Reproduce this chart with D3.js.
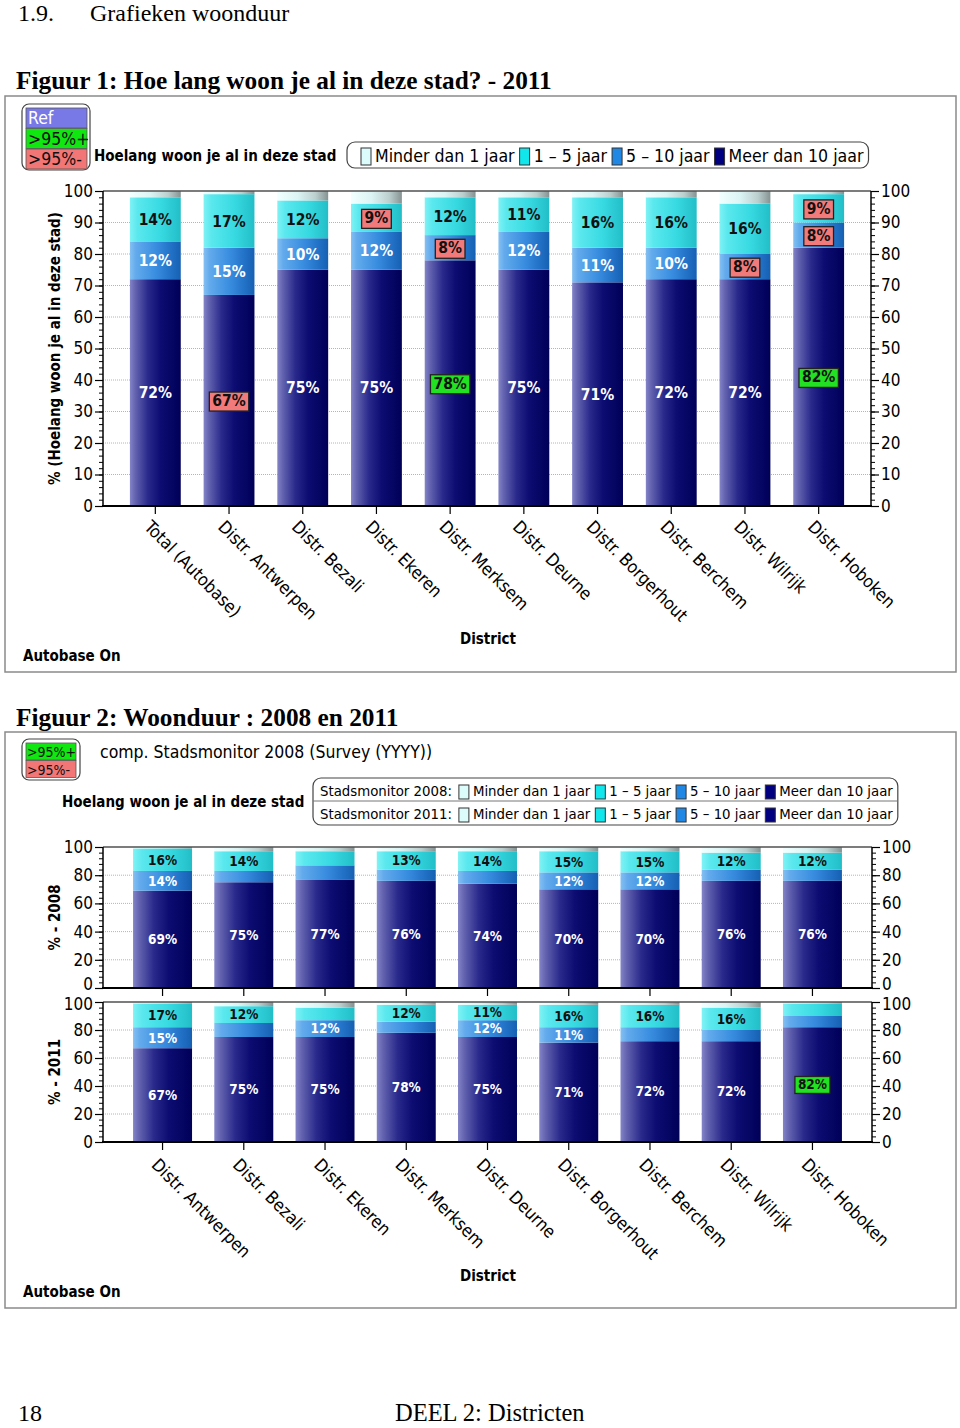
<!DOCTYPE html>
<html><head><meta charset="utf-8">
<script src="https://cdn.jsdelivr.net/npm/d3@7"></script>
<style>body{margin:0;background:#fff}svg{display:block}</style>
</head><body>
<svg id="c" width="960" height="1428"></svg>
<script>
// ---------------- DATA ----------------
const stackKeys = ["meer", "tien", "vijf", "minder"]; // bottom -> top
const legendLabels = ["Minder dan 1 jaar", "1 – 5 jaar", "5 – 10 jaar", "Meer dan 10 jaar"];
const legendKeys = ["minder", "vijf", "tien", "meer"];

const categoriesFig1 = ["Total (Autobase)", "Distr. Antwerpen", "Distr. Bezali", "Distr. Ekeren", "Distr. Merksem",
  "Distr. Deurne", "Distr. Borgerhout", "Distr. Berchem", "Distr. Wilrijk", "Distr. Hoboken"];
const fig1Meer   = [72, 67, 75, 75, 78, 75, 71, 72, 72, 82];
const fig1Tien   = [12, 15, 10, 12, 8, 12, 11, 10, 8, 8];
const fig1Vijf   = [14, 17, 12, 9, 12, 11, 16, 16, 16, 9];
const fig1Minder = [2, 1, 3, 4, 2, 2, 2, 2, 4, 1];
const fig1SigMeer = ["", "-", "", "", "+", "", "", "", "", "+"];
const fig1SigTien = ["", "", "", "", "-", "", "", "", "-", "-"];
const fig1SigVijf = ["", "", "", "-", "", "", "", "", "", "-"];

const categoriesFig2 = ["Distr. Antwerpen", "Distr. Bezali", "Distr. Ekeren", "Distr. Merksem", "Distr. Deurne",
  "Distr. Borgerhout", "Distr. Berchem", "Distr. Wilrijk", "Distr. Hoboken"];
const fig2Meer2008   = [69, 75, 77, 76, 74, 70, 70, 76, 76];
const fig2Tien2008   = [14, 8, 10, 8, 9, 12, 12, 8, 8];
const fig2Vijf2008   = [16, 14, 10, 13, 14, 15, 15, 12, 12];
const fig2Minder2008 = [1, 3, 3, 3, 3, 3, 3, 4, 4];
const fig2Meer2011   = [67, 75, 75, 78, 75, 71, 72, 72, 82];
const fig2Tien2011   = [15, 10, 12, 8, 12, 11, 10, 8, 8];
const fig2Vijf2011   = [17, 12, 9, 12, 11, 16, 16, 16, 9];
const fig2Minder2011 = [1, 3, 4, 2, 2, 2, 2, 4, 1];
const fig2SigMeer2011 = ["", "", "", "", "", "", "", "", "+"];

const yTicksFig1 = [0, 10, 20, 30, 40, 50, 60, 70, 80, 90, 100];
const yTicksFig2 = [0, 20, 40, 60, 80, 100];

// ---------------- STYLE ----------------
const FONT = "'DejaVu Sans Condensed','DejaVu Sans',sans-serif";
const SERIF = "'Liberation Serif','Times New Roman',serif";
const svg = d3.select("#c");
const defs = svg.append("defs");

const gradStops = {
  meer:   [[0, "#8484c8"], [0.1, "#6464b0"], [0.35, "#2a2a8c"], [0.6, "#0c0c72"], [1, "#000058"]],
  tien:   [[0, "#84c0f2"], [0.12, "#62aaec"], [0.5, "#3a8ee0"], [0.8, "#2272c8"], [1, "#1660b2"]],
  vijf:   [[0, "#80f2f4"], [0.15, "#5ae8ee"], [0.6, "#38dae2"], [1, "#22bec8"]],
  minder: [[0, "#f2ffff"], [0.4, "#dcf4f4"], [0.75, "#bccfcf"], [1, "#869292"]]
};
const swatchColors = {minder: "#dcfcfc", vijf: "#10e6ec", tien: "#2088e4", meer: "#000080"};
const labelColors = {meer: "#ffffff", tien: "#ffffff", vijf: "#111111", minder: "#111111"};
const sigFill = {"+": "#22e022", "-": "#f27a7a"};

Object.entries(gradStops).forEach(([k, stops]) => {
  const g = defs.append("linearGradient").attr("id", "g-" + k).attr("x1", 0).attr("x2", 1).attr("y1", 0).attr("y2", 0);
  stops.forEach(s => g.append("stop").attr("offset", s[0]).attr("stop-color", s[1]));
});

function rows(cats, meer, tien, vijf, minder) {
  return cats.map((c, i) => ({cat: c, meer: meer[i], tien: tien[i], vijf: vijf[i], minder: minder[i]}));
}

function text(g, x, y, str, size, opts = {}) {
  return g.append("text").attr("x", x).attr("y", y).text(str)
    .attr("font-family", opts.family || FONT).attr("font-size", size)
    .attr("font-weight", opts.bold ? "bold" : "normal")
    .attr("fill", opts.fill || "#000")
    .attr("text-anchor", opts.anchor || "start");
}

function panel(o) {
  const g = svg.append("g");
  const x = d3.scaleBand().domain(o.cats).range([o.x0, o.x1]).paddingInner(o.padInner).paddingOuter(o.padOuter);
  const y = d3.scaleLinear().domain([0, 100]).range([o.yBot, o.yTop]);
  // gridlines
  g.append("g").selectAll("line").data(o.ticks.filter(t => t > 0 && t < 100)).join("line")
    .attr("x1", o.x0).attr("x2", o.x1).attr("y1", d => y(d)).attr("y2", d => y(d))
    .attr("stroke", "#b4b4b4").attr("stroke-width", 1).attr("stroke-dasharray", "1,1");
  // bars
  const stack = d3.stack().keys(stackKeys)(o.rows);
  stack.forEach(layer => {
    g.append("g").selectAll("rect").data(layer).join("rect")
      .attr("x", d => x(d.data.cat)).attr("width", x.bandwidth())
      .attr("y", d => y(d[1])).attr("height", d => y(d[0]) - y(d[1]))
      .attr("fill", "url(#g-" + layer.key + ")");
  });
  // frame
  g.append("line").attr("x1", o.x0).attr("x2", o.x1).attr("y1", o.yTop).attr("y2", o.yTop).attr("stroke", "#505050").attr("stroke-width", 1.5);
  // axes
  const minor = d3.range(0, 100.001, o.minorStep);
  const left = d3.axisLeft(y).tickValues(minor).tickSize(4).tickFormat("");
  const right = d3.axisRight(y).tickValues(minor).tickSize(4).tickFormat("");
  g.append("g").attr("transform", `translate(${o.x0},0)`).call(left).call(s => s.select(".domain").remove()).selectAll("line").attr("stroke-width", 1);
  g.append("g").attr("transform", `translate(${o.x1},0)`).call(right).call(s => s.select(".domain").remove()).selectAll("line").attr("stroke-width", 1);
  const la = g.append("g").attr("transform", `translate(${o.x0},0)`)
    .call(d3.axisLeft(y).tickValues(o.ticks).tickSize(8).tickPadding(2).tickFormat(d3.format("d")));
  const ra = g.append("g").attr("transform", `translate(${o.x1},0)`)
    .call(d3.axisRight(y).tickValues(o.ticks).tickSize(8).tickPadding(2).tickFormat(d3.format("d")));
  [la, ra].forEach(a => {
    a.select(".domain").remove();
    a.selectAll("text").attr("font-family", FONT).attr("font-size", o.tickFont).attr("fill", "#000")
      .attr("dy", d => (d === 0 && o.nudgeZero ? "0.1em" : (d === 100 && o.nudgeTop ? "0.45em" : "0.32em")));
    a.selectAll("line").attr("stroke-width", 1.2);
  });
  g.append("line").attr("x1", o.x0).attr("x2", o.x0).attr("y1", o.yTop).attr("y2", o.yBot).attr("stroke", "#000").attr("stroke-width", 1.5);
  g.append("line").attr("x1", o.x1).attr("x2", o.x1).attr("y1", o.yTop).attr("y2", o.yBot).attr("stroke", "#000").attr("stroke-width", 1.5);
  const xa = g.append("g").attr("transform", `translate(0,${o.yBot})`)
    .call(d3.axisBottom(x).tickSize(8).tickFormat(""));
  xa.select(".domain").remove();
  xa.selectAll("line").attr("stroke-width", 1.2);
  g.append("line").attr("x1", o.x0 - 1).attr("x2", o.x1 + 1).attr("y1", o.yBot).attr("y2", o.yBot).attr("stroke", "#000").attr("stroke-width", 2.2);

  // value labels
  stack.forEach(layer => {
    const k = layer.key;
    const sig = (o.sig && o.sig[k]) || [];
    layer.forEach((d, i) => {
      const v = d[1] - d[0];
      const s = sig[i] || "";
      if (!(v >= o.threshold || s)) return;
      const cx = x(d.data.cat) + x.bandwidth() / 2;
      const cy = y((d[0] + d[1]) / 2);
      const t = g.append("text").attr("x", cx).attr("y", cy).attr("dy", "0.36em")
        .attr("text-anchor", "middle").attr("font-family", FONT).attr("font-weight", "bold")
        .attr("font-size", o.labelFont).attr("fill", s ? "#111" : labelColors[k]).text(v + "%");
      if (s) {
        const bb = t.node().getBBox();
        g.insert("rect", () => t.node())
          .attr("x", bb.x - 3).attr("y", bb.y).attr("width", bb.width + 6).attr("height", bb.height + 1)
          .attr("fill", sigFill[s]).attr("stroke", "#222").attr("stroke-width", 1.3);
      }
    });
  });

  if (o.xLabels) {
    g.append("g").selectAll("text").data(o.cats).join("text")
      .attr("transform", d => `translate(${x(d) + x.bandwidth() / 2 - 12},${o.yBot + o.xLabelDy}) rotate(45)`)
      .attr("font-family", FONT).attr("font-size", o.xFont).text(d => d);
  }
  // y title
  g.append("text").attr("transform", `translate(${o.yTitleX},${(o.yTop + o.yBot) / 2}) rotate(-90)`)
    .attr("text-anchor", "middle").attr("font-family", FONT).attr("font-weight", "bold")
    .attr("font-size", o.yTitleFont).text(o.yTitle);
  return g;
}

function legendBox(g, x, y, items, size, swW, swH, gap) {
  let cx = x;
  items.forEach(it => {
    g.append("rect").attr("x", cx).attr("y", y - swH + 3).attr("width", swW).attr("height", swH)
      .attr("fill", swatchColors[it.key]).attr("stroke", "#333").attr("stroke-width", 1);
    cx += swW + 4;
    const t = text(g, cx, y, it.label, size);
    cx += t.node().getComputedTextLength() + gap;
  });
  return cx;
}

// ---------------- PAGE TEXT ----------------
text(svg, 18, 21, "1.9.", 24, {family: SERIF});
text(svg, 90, 21, "Grafieken woonduur", 24, {family: SERIF});
text(svg, 16, 89, "Figuur 1: Hoe lang woon je al in deze stad? - 2011", 25.3, {family: SERIF, bold: true});
text(svg, 16, 726, "Figuur 2: Woonduur : 2008 en 2011", 25.3, {family: SERIF, bold: true});
text(svg, 18, 1421, "18", 24, {family: SERIF});
text(svg, 395, 1421, "DEEL 2: Districten", 24.5, {family: SERIF});

// ---------------- FIGURE 1 ----------------
svg.append("rect").attr("x", 5).attr("y", 96).attr("width", 951).attr("height", 576)
  .attr("fill", "none").attr("stroke", "#8a8a8a").attr("stroke-width", 1.5);
// small legend
svg.append("rect").attr("x", 22).attr("y", 104).attr("width", 68).attr("height", 66).attr("rx", 7)
  .attr("fill", "#fff").attr("stroke", "#444").attr("stroke-width", 1.2);
[["Ref", "#7878e6", "#fff"], [">95%+", "#10e610", "#111"], [">95%-", "#f27676", "#111"]].forEach((r, i) => {
  svg.append("rect").attr("x", 26).attr("y", 108 + i * 20.5).attr("width", 61).attr("height", 20).attr("fill", r[1]).attr("stroke", "#555").attr("stroke-width", 0.8);
  text(svg, 28, 124 + i * 20.5, r[0], 17.5, {fill: r[2]});
});
text(svg, 94, 161, "Hoelang woon je al in deze stad", 15, {bold: true});
const lg1 = svg.append("g");
const lgRect1 = lg1.append("rect").attr("x", 347).attr("y", 142).attr("height", 26).attr("rx", 8)
  .attr("fill", "#fff").attr("stroke", "#444").attr("stroke-width", 1.2);
const end1 = legendBox(lg1, 361, 162, legendKeys.map((k, i) => ({key: k, label: legendLabels[i]})), 17.6, 10, 17, 5);
lgRect1.attr("width", end1 - 347);

panel({
  x0: 103, x1: 871, yTop: 191, yBot: 506, cats: categoriesFig1,
  rows: rows(categoriesFig1, fig1Meer, fig1Tien, fig1Vijf, fig1Minder),
  padInner: 0.31, padOuter: 0.365, ticks: yTicksFig1, minorStep: 2, tickFont: 17,
  threshold: 10, sig: {meer: fig1SigMeer, tien: fig1SigTien, vijf: fig1SigVijf},
  labelFont: 15.5, xLabels: true, xFont: 17.5, xLabelDy: 22,
  yTitle: "% (Hoelang woon je al in deze stad)", yTitleX: 60, yTitleFont: 15
});
text(svg, 488, 644, "District", 15, {bold: true, anchor: "middle"});
text(svg, 23, 661, "Autobase On", 15, {bold: true});

// ---------------- FIGURE 2 ----------------
svg.append("rect").attr("x", 5).attr("y", 732).attr("width", 951).attr("height", 576)
  .attr("fill", "none").attr("stroke", "#8a8a8a").attr("stroke-width", 1.5);
svg.append("rect").attr("x", 22).attr("y", 739).attr("width", 58).attr("height", 41).attr("rx", 7)
  .attr("fill", "#fff").attr("stroke", "#444").attr("stroke-width", 1.2);
[[">95%+", "#10e610"], [">95%-", "#f27676"]].forEach((r, i) => {
  svg.append("rect").attr("x", 26).attr("y", 743 + i * 17.5).attr("width", 50).attr("height", 17).attr("fill", r[1]).attr("stroke", "#555").attr("stroke-width", 0.8);
  text(svg, 27, 757 + i * 17.5, r[0], 14, {fill: "#111"});
});
text(svg, 100, 758, "comp. Stadsmonitor 2008 (Survey (YYYY))", 17.5);
text(svg, 62, 807, "Hoelang woon je al in deze stad", 15, {bold: true});
const lg2 = svg.append("g");
const lgRect2 = lg2.append("rect").attr("x", 313).attr("y", 778).attr("height", 47).attr("rx", 8)
  .attr("fill", "#fff").attr("stroke", "#444").attr("stroke-width", 1.2);
let end2 = 0;
["Stadsmonitor 2008:", "Stadsmonitor 2011:"].forEach((lab, r) => {
  const yy = 796 + r * 23;
  const t = text(lg2, 320, yy, lab, 14.8);
  const e = legendBox(lg2, 320 + t.node().getComputedTextLength() + 7, yy, legendKeys.map((k, i) => ({key: k, label: legendLabels[i]})), 14.8, 10, 14, 5);
  end2 = Math.max(end2, e);
});
lgRect2.attr("width", end2 - 313);
lg2.append("line").attr("x1", 313).attr("x2", end2).attr("y1", 801).attr("y2", 801).attr("stroke", "#777").attr("stroke-width", 1);

const fig2Common = {
  x0: 103, x1: 872, cats: categoriesFig2, padInner: 0.274, padOuter: 0.37,
  ticks: yTicksFig2, minorStep: 4, tickFont: 17, threshold: 11, labelFont: 13.5, xFont: 17.5, xLabelDy: 24,
  yTitleX: 60, yTitleFont: 15
};
panel(Object.assign({}, fig2Common, {
  yTop: 847, yBot: 988, rows: rows(categoriesFig2, fig2Meer2008, fig2Tien2008, fig2Vijf2008, fig2Minder2008),
  sig: {}, xLabels: false, yTitle: "% - 2008", nudgeZero: true
}));
panel(Object.assign({}, fig2Common, {
  yTop: 1002, yBot: 1142, rows: rows(categoriesFig2, fig2Meer2011, fig2Tien2011, fig2Vijf2011, fig2Minder2011),
  sig: {meer: fig2SigMeer2011}, xLabels: true, yTitle: "% - 2011", nudgeTop: true
}));
text(svg, 488, 1281, "District", 15, {bold: true, anchor: "middle"});
text(svg, 23, 1297, "Autobase On", 15, {bold: true});
</script>
</body></html>
